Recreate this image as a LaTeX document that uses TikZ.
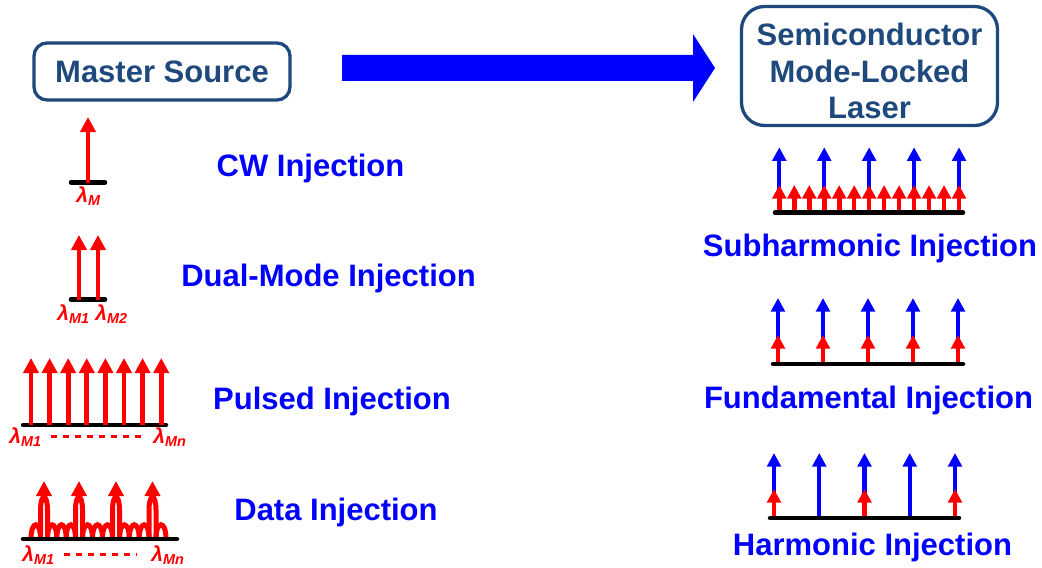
\documentclass[tikz,border=0pt]{standalone}
\usepackage{fontspec}
\setmainfont{Liberation Sans}
\usepackage{xcolor}
\definecolor{boxBlue}{RGB}{31,73,125}
\colorlet{colorCaption}{blue}
\colorlet{colorMaster}{red}
\colorlet{colorSlave}{blue}
\usepackage{tikz}
\usetikzlibrary{arrows.meta, positioning}
\tikzset{
  frame/.style={draw=boxBlue, line width=1.65pt, rounded corners=6.5pt, inner sep=0pt},
  title/.style={font=\fontsize{15.5}{18.2}\selectfont\bfseries, text=boxBlue, align=center},
  caption/.style={font=\fontsize{15.5}{18}\selectfont\bfseries, text=colorCaption, anchor=base, inner sep=0pt},
  lamlabel/.style={font=\fontsize{10.5}{11}\selectfont\bfseries\itshape, text=colorMaster, anchor=base west, inner sep=0pt},
  axisline/.style={black, line width=2.25pt, line cap=round},
  master/.style={draw=colorMaster, line width=2.4pt, -{Triangle[width=7.5pt,length=7.5pt]}},
  masterS/.style={draw=colorMaster, line width=2.3pt, -{Triangle[width=6.8pt,length=6.8pt]}},
  slaveS/.style={draw=colorSlave, line width=2.1pt, -{Triangle[width=6.8pt,length=6.8pt]}},
  bump/.style={draw=colorMaster, line width=2.5pt},
  dots/.style={draw=colorMaster, line width=1.5pt, dash pattern=on 3pt off 3pt},
}
\newcommand{\lam}[1]{λ\raisebox{-1.75pt}{\fontsize{7.2}{8}\selectfont #1}}

\begin{document}
\begin{tikzpicture}[x=0.5pt, y=-0.5pt]
\useasboundingbox (0,0) rectangle (1042,567);

% sources and the injection arrow
\node[frame, title, minimum width=128pt, minimum height=28.5pt] (src) at (162,71.5) {Master Source};
\node[frame, rounded corners=11.5pt, minimum width=128pt, minimum height=59.5pt] (mll) at (869.5,66) {};
\node[title] (mlltext) at (869.5,71) {Semiconductor\\Mode-Locked\\Laser};
\fill[colorSlave] (342,55) -- (693,55) -- (693,34) -- (715,68) -- (693,102) -- (693,81) -- (342,81) -- cycle;

% master spectra
\node[caption] (cw) at (310.5,176) {CW Injection};
\draw[axisline] (71,182.5) -- (105,182.5);
\draw[master] (88,182.5) -- (88,117);
\node[lamlabel] (lm) at (76,202) {\lam{M}};

\node[caption] (dual) at (328.5,286.5) {Dual-Mode Injection};
\draw[axisline] (71,299.5) -- (105,299.5);
\foreach \x in {79,98}
  \draw[master] (\x,299.5) -- (\x,235);
\node[lamlabel] (dm1) at (57,320) {\lam{M1}};
\node[lamlabel] (dm2) at (95,320) {\lam{M2}};

\node[caption] (pulsed) at (332,409) {Pulsed Injection};
\draw[axisline] (23,425) -- (166,425);
\foreach \i in {0,...,7}
  \draw[master] (31+18.6*\i,425) -- (31+18.6*\i,358);
\node[lamlabel] (pm1) at (9,443) {\lam{M1}};
\node[lamlabel] (pmn) at (153,443) {\lam{Mn}};
\draw[dots] ([xshift=5pt]pm1.east) -- ([xshift=-6pt]pmn.west);

\node[caption] (data) at (336,520) {Data Injection};
\foreach \a/\b in {31/40.5, 47.5/56.8, 56.8/66.2, 66.2/75.5, 82.5/92.5, 92.5/102.5, 102.5/112.5,
                   119.5/129.3, 129.3/139.2, 139.2/149, 156/166}
  \draw[bump] (\a,539) .. controls +(0,-19) and +(0,-19) .. (\b,539);
\foreach \x in {44,79,116,152.5}{
  \draw[bump] (\x-3.5,539) -- (\x-3.5,510) .. controls (\x-3.5,493) and (\x+3.5,493) .. (\x+3.5,510) -- (\x+3.5,539);
  \draw[master] (\x,498) -- (\x,481);
}
\draw[axisline] (23,539) -- (177,539);
\node[lamlabel] (dt1) at (22,561) {\lam{M1}};
\node[lamlabel] (dtn) at (151,561) {\lam{Mn}};
\draw[dots] ([xshift=5pt]dt1.east) -- ([xshift=-7pt]dtn.west);

% slave spectra
\foreach \i in {0,...,4}
  \draw[slaveS] (779.3+44.93*\i,212.7) -- (779.3+44.93*\i,147.3);
\foreach \i in {0,...,12}
  \draw[masterS] (779.3+14.975*\i,212.7) -- (779.3+14.975*\i,185);
\draw[axisline] (775,212.7) -- (963,212.7);
\node[caption] (subh) at (870,256.7) {Subharmonic Injection};

\foreach \i in {0,...,4}{
  \draw[slaveS] (778+45*\i,364) -- (778+45*\i,298);
  \draw[masterS] (778+45*\i,364) -- (778+45*\i,335);
}
\draw[axisline] (773,364) -- (963,364);
\node[caption] (fund) at (868.5,408) {Fundamental Injection};

\foreach \i in {0,...,4}
  \draw[slaveS] (774+45.25*\i,518) -- (774+45.25*\i,453);
\foreach \i in {0,2,4}
  \draw[masterS] (774+45.25*\i,518) -- (774+45.25*\i,489);
\draw[axisline] (770,518) -- (959,518);
\node[caption] (harm) at (872.5,555) {Harmonic Injection};
\end{tikzpicture}
\end{document}
